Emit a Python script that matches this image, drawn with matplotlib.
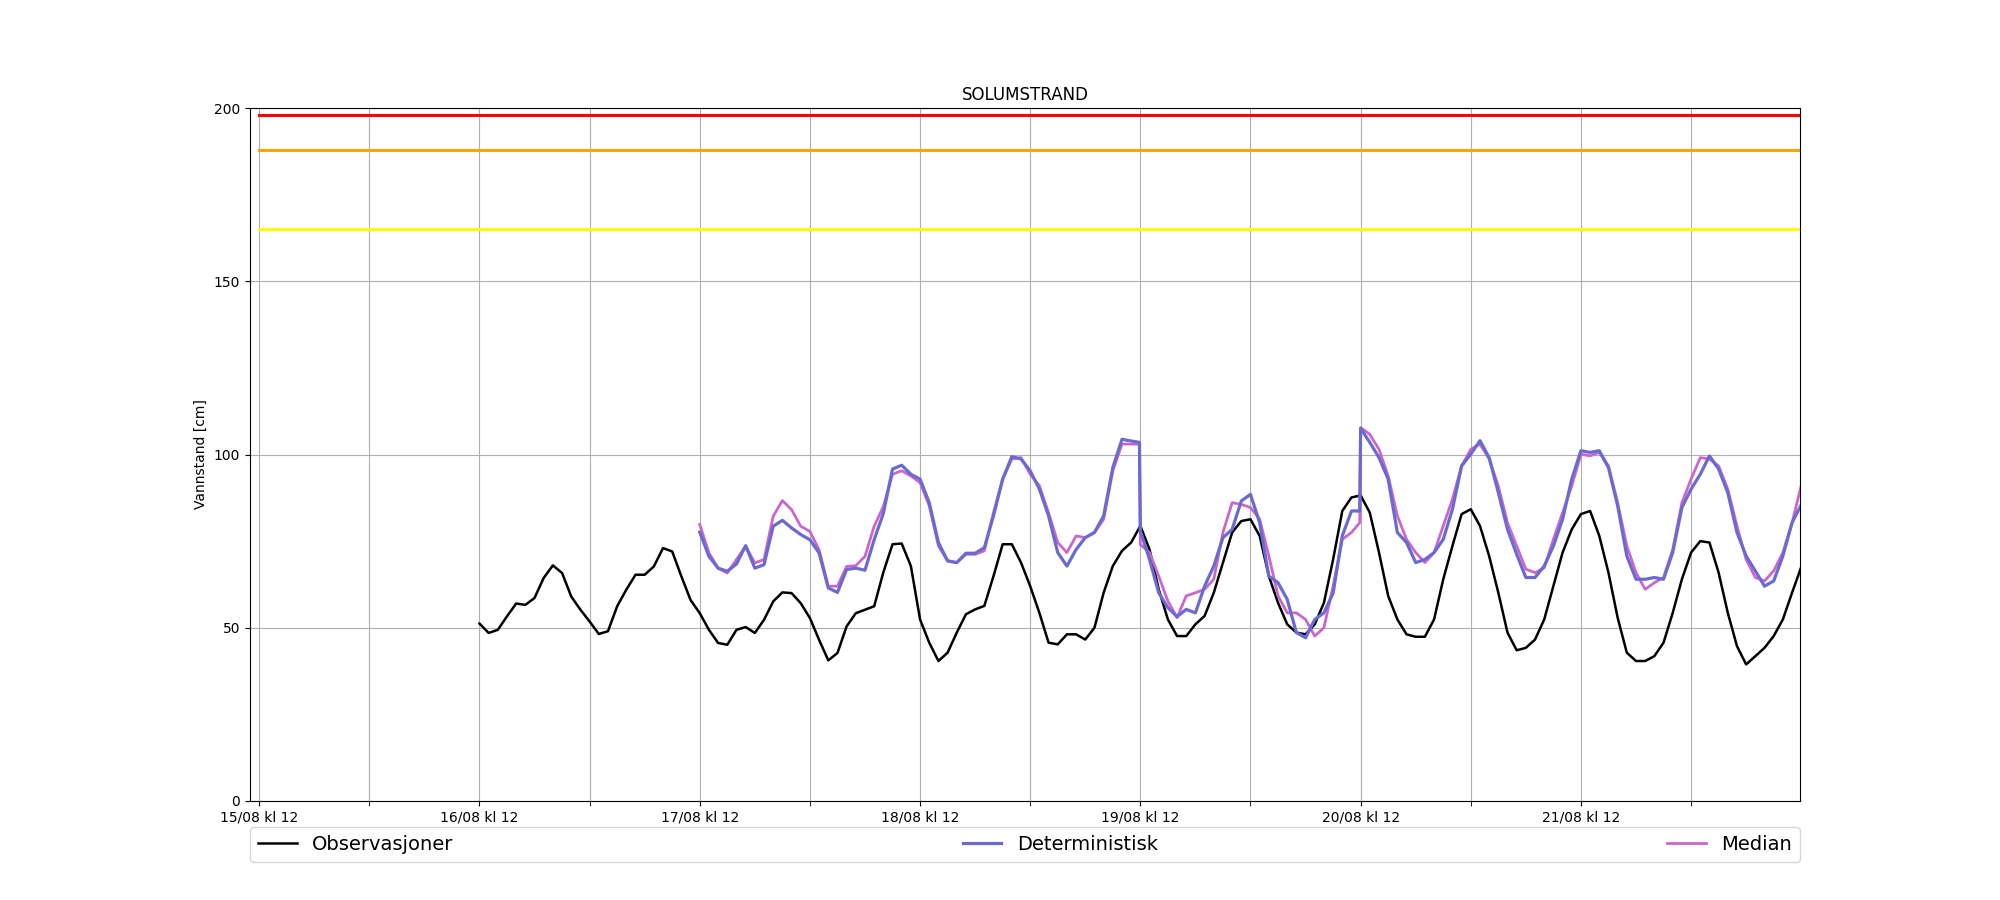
import numpy as np
import pandas as pd
import matplotlib
matplotlib.use("Agg")
import matplotlib.pyplot as plt
import matplotlib.dates as mdates

# ---- data ----
start = pd.Timestamp("2024-08-16 12:00")   # observation start (16/08 kl 12)

obs_hours = list(range(0, 145))
obs_values = [51.2, 48.5, 49.4, 53.3, 57.0, 56.6, 58.6, 64.4, 68.0, 65.8,
              59.0, 55.2, 51.8, 48.2, 49.0, 56.2, 61.0, 65.3, 65.3, 67.7,
              73.0, 72.0, 64.8, 58.0, 54.2, 49.4, 45.6, 45.1, 49.4, 50.2,
              48.5, 52.3, 57.6, 60.2, 60.0, 57.1, 52.8, 46.5, 40.6, 42.7,
              50.4, 54.2, 55.2, 56.2, 66.0, 74.1, 74.3, 67.8, 52.4, 45.7,
              40.4, 42.8, 48.6, 53.9, 55.3, 56.3, 64.9, 74.1, 74.1, 68.8,
              62.0, 54.3, 45.7, 45.2, 48.1, 48.1, 46.6, 50.0, 60.1, 67.8,
              72.2, 74.6, 79.4, 72.6, 61.1, 52.4, 47.6, 47.6, 51.0, 53.4,
              60.1, 68.8, 77.5, 80.8, 81.3, 76.5, 64.9, 57.2, 51.0, 48.6,
              48.1, 51.0, 57.2, 69.7, 83.7, 87.6, 88.2, 83.2, 71.7, 59.2,
              52.4, 48.1, 47.4, 47.4, 52.4, 64.0, 73.6, 82.8, 84.2, 79.4,
              70.7, 60.1, 48.6, 43.5, 44.2, 46.6, 52.4, 62.0, 71.7, 78.4,
              82.8, 83.7, 76.5, 65.9, 52.9, 42.8, 40.4, 40.4, 41.8, 45.7,
              54.3, 64.0, 71.7, 75.0, 74.6, 65.9, 54.3, 44.7, 39.4, 41.8,
              44.2, 47.6, 52.4, 60.1, 67.5]

fc_hours = (list(range(24, 72)) + [71.9] + list(range(72, 96)) + [95.9]
            + list(range(96, 145)))

det_values = [77.6, 70.6, 67.2, 66.3, 68.4, 73.7, 67.2, 68.2, 79.3, 81.0,
              78.8, 76.9, 75.4, 71.6, 61.5, 60.2, 66.8, 67.2, 66.6, 75.4,
              83.0, 95.8, 96.9, 94.3, 92.9, 86.1, 74.6, 69.3, 68.8, 71.5,
              71.5, 73.1, 82.3, 92.9, 99.4, 98.7, 95.3, 90.0, 82.3, 71.7,
              67.8, 72.6, 76.0, 77.5, 82.3, 96.2, 104.4, 103.9,
              103.5,
              78.0, 69.7, 60.1, 55.8, 53.2, 55.3, 54.3, 62.0, 67.8, 76.0,
              78.4, 86.6, 88.5, 80.3, 64.9, 63.0, 58.2, 48.6, 47.1, 52.4,
              54.3, 60.0, 76.5, 83.7,
              83.7,
              107.5, 103.5, 99.1, 92.9, 77.5, 74.6, 68.8, 69.7, 71.7, 75.5,
              84.2, 96.7, 100.1, 104.0, 99.1, 89.0, 78.4, 71.2, 64.5, 64.5,
              67.8, 73.6, 81.3, 92.9, 101.1, 100.6, 101.1, 96.2, 85.2, 70.7,
              64.0, 64.0, 64.5, 64.0, 71.7, 84.7, 90.0, 94.3, 99.6, 95.8,
              89.0, 77.5, 70.7, 66.4, 62.0, 63.5, 70.7, 80.3, 85.5]

med_values = [79.8, 71.6, 67.2, 65.8, 69.7, 73.5, 68.7, 69.7, 82.2, 86.7,
              84.1, 79.3, 77.8, 72.5, 62.0, 62.0, 67.7, 67.9, 70.6, 79.3,
              85.0, 94.3, 95.3, 93.8, 91.9, 85.2, 73.6, 69.3, 68.8, 71.2,
              71.2, 72.2, 83.2, 92.9, 98.7, 99.1, 94.3, 91.0, 83.2, 74.6,
              71.7, 76.5, 76.0, 77.5, 81.3, 95.3, 103.0, 103.0,
              103.0,
              74.0, 71.7, 64.9, 57.7, 52.9, 59.2, 60.1, 61.1, 64.0, 77.5,
              86.1, 85.6, 84.7, 81.3, 70.7, 59.2, 54.3, 54.3, 52.4, 47.6,
              50.0, 62.0, 75.5, 77.5,
              80.3,
              107.8, 105.8, 101.5, 93.8, 82.3, 75.5, 71.7, 68.8, 71.7, 79.4,
              87.1, 96.7, 101.5, 103.0, 98.7, 90.9, 80.3, 73.6, 66.9, 65.9,
              67.3, 75.5, 83.2, 90.9, 100.1, 99.6, 100.6, 96.7, 86.1, 73.6,
              65.9, 61.1, 63.0, 64.5, 72.6, 86.1, 92.9, 99.1, 98.7, 96.7,
              90.0, 79.4, 69.7, 64.5, 63.5, 66.4, 71.7, 80.3, 91.0]

levels = [198, 188, 165]
level_colors = ["red", "orange", "yellow"]

title = "SOLUMSTRAND"
ylabel = "Vannstand [cm]"
labels = ["Observasjoner", "Deterministisk", "Median"]

# ---- plot ----
obs_t = start + pd.to_timedelta(obs_hours, unit="h")
fc_t = start + pd.to_timedelta(fc_hours, unit="h")

fig, ax = plt.subplots(figsize=(20, 9), dpi=100)

t0 = pd.Timestamp("2024-08-15 12:00")
t1 = pd.Timestamp("2024-08-22 12:00")
for lv, c in zip(levels, level_colors):
    ax.plot([t0, t1], [lv, lv], color=c, lw=2.2)

l1, = ax.plot(obs_t, obs_values, color="black", lw=1.8, label=labels[0])
l2, = ax.plot(fc_t, det_values, color="#6a6ad2", lw=2.3, label=labels[1], zorder=4)
l3, = ax.plot(fc_t, med_values, color="#cc66cc", lw=2.0, label=labels[2], zorder=3)

ax.set_xlim(pd.Timestamp("2024-08-15 11:00"), pd.Timestamp("2024-08-22 11:52"))
ax.set_ylim(0, 200)
ax.set_yticks([0, 50, 100, 150, 200])

ax.xaxis.set_major_locator(mdates.HourLocator(byhour=[12]))
ax.xaxis.set_major_formatter(mdates.DateFormatter("%d/%m kl %H"))
ax.xaxis.set_minor_locator(mdates.HourLocator(byhour=[0]))
ax.tick_params(axis="x", which="minor", length=3.5)
ax.grid(True, which="both", axis="both")

ax.set_title(title, fontsize=12)
ax.set_ylabel(ylabel)

ax.legend(handles=[l1, l2, l3], loc="upper left",
          bbox_to_anchor=(0, -0.038, 1, 0), mode="expand", ncol=3,
          borderaxespad=0, fontsize=14)

fig.savefig("out.png", dpi=100)
